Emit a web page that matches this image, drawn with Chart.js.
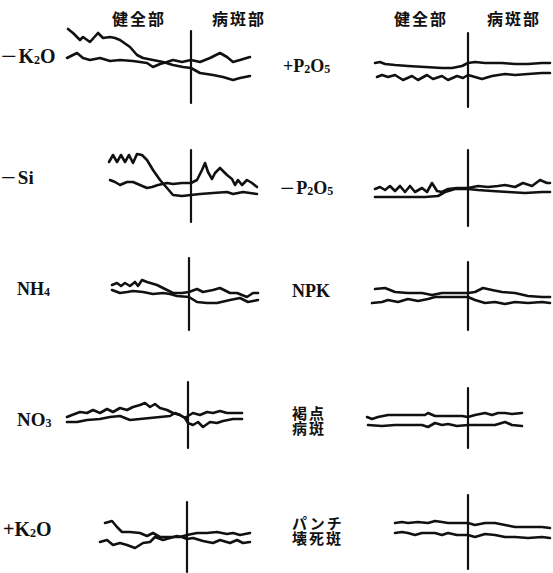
<!DOCTYPE html>
<html lang="ja">
<head>
<meta charset="utf-8">
<title>健全部と病斑部の比較</title>
<script src="https://cdn.jsdelivr.net/npm/chart.js@4.4.1/dist/chart.umd.min.js"></script>
<style>
    html, body { margin: 0; padding: 0; background: #fff; }
    body { width: 553px; height: 573px; position: relative; overflow: hidden; }
    canvas.panel { position: absolute; }
    .hdr {
        position: absolute;
        font-family: "Noto Sans CJK JP", sans-serif;
        font-weight: bold;
        font-size: 16px;
        line-height: 1;
        letter-spacing: 2px;
        color: #111;
        white-space: nowrap;
    }
    .lbl {
        position: absolute;
        font-family: "Liberation Serif", "DejaVu Serif", serif;
        font-weight: bold;
        font-size: 19px;
        line-height: 1;
        color: #111;
        white-space: nowrap;
    }
    .lbl sub { font-size: 12px; vertical-align: baseline; position: relative; top: 1px; }
    .lbl .sign { display: inline-block; transform: scaleX(1.4); margin: 0 4px 0 2px; }
    .jlbl {
        position: absolute;
        font-family: "Noto Sans CJK JP", sans-serif;
        font-weight: bold;
        font-size: 15px;
        line-height: 15px;
        letter-spacing: 2px;
        color: #111;
        white-space: nowrap;
    }
</style>
</head>
<body>

<div class="hdr" style="left:112px; top:10px;">健全部</div>
<div class="hdr" style="left:212px; top:10px;">病斑部</div>
<div class="hdr" style="left:394px; top:10px;">健全部</div>
<div class="hdr" style="left:487px; top:10px;">病斑部</div>

<div class="lbl" style="left:1px; top:46px; font-size:20px;"><span class="sign">−</span>K<sub>2</sub>O</div>
<div class="lbl" style="left:283px; top:57px; font-size:18px;">+P<sub>2</sub>O<sub>5</sub></div>
<div class="lbl" style="left:1px; top:168px;"><span class="sign">−</span>Si</div>
<div class="lbl" style="left:280px; top:179px; font-size:18px;"><span class="sign">−</span>P<sub>2</sub>O<sub>5</sub></div>
<div class="lbl" style="left:17px; top:280px; font-size:18px;">NH<sub>4</sub></div>
<div class="lbl" style="left:292px; top:282px; font-size:18px;">NPK</div>
<div class="lbl" style="left:17px; top:410px;">NO<sub>3</sub></div>
<div class="jlbl" style="left:292px; top:405px;">褐点<br>病斑</div>
<div class="lbl" style="left:3px; top:519px; font-size:20px;">+K<sub>2</sub>O</div>
<div class="jlbl" style="left:292px; top:515px;">パンチ<br>壊死斑</div>

<script>
// x: distance from the lesion border (negative = healthy side), y: relative level
const k2oMinusA = [[-123,38],[-118,34],[-111,27],[-108,30],[-101,25],[-93,34],[-88,29],[-81,30],[-76,29],[-71,27],[-61,20],[-54,12],[-48,9],[-38,7],[-28,5],[-18,2],[-8,0],[0,-1],[9,-6],[22,-8],[32,-10],[42,-13],[49,-11],[59,-9]];
const k2oMinusB = [[-124,9],[-114,14],[-108,9],[-101,7],[-91,9],[-81,6],[-71,7],[-58,6],[-44,4],[-38,0],[-31,3],[-24,5],[-18,7],[-9,5],[0,7],[9,5],[19,9],[29,14],[36,10],[42,5],[49,7],[59,10]];

const p2o5PlusA = [[-93,7],[-88,8],[-83,6],[-73,5],[-60,4],[-43,3],[-26,2],[-16,2],[-6,4],[0,7],[7,8],[17,7],[34,7],[47,6],[60,6],[74,7],[82,7]];
const p2o5PlusB = [[-91,-7],[-86,-5],[-80,-7],[-73,-5],[-65,-10],[-56,-6],[-50,-10],[-41,-5],[-35,-9],[-26,-6],[-20,-10],[-11,-6],[-5,-8],[0,-5],[7,-7],[14,-9],[24,-6],[37,-4],[47,-5],[60,-4],[74,-3],[82,-3]];

const siMinusA = [[-82,24],[-78,31],[-74,24],[-70,31],[-66,24],[-62,31],[-58,23],[-54,32],[-49,31],[-44,26],[-38,16],[-31,6],[-24,-2],[-18,-9],[-9,-10],[0,-9],[9,-8],[22,-7],[36,-6],[42,-8],[52,-6],[66,-8]];
const siMinusB = [[-81,6],[-76,4],[-71,1],[-64,4],[-58,4],[-51,1],[-44,-2],[-39,-1],[-33,1],[-24,3],[-18,2],[-9,3],[0,3],[6,6],[11,16],[14,23],[17,14],[21,7],[24,13],[29,18],[36,11],[41,7],[44,1],[47,6],[51,1],[56,6],[61,3],[66,-1]];

const p2o5MinusA = [[-93,-1],[-88,1],[-83,-2],[-78,2],[-73,-3],[-68,2],[-63,-4],[-58,2],[-53,-4],[-46,0],[-41,-4],[-36,5],[-31,-3],[-26,-4],[-20,-1],[-11,0],[0,0],[10,2],[20,1],[30,2],[37,3],[47,1],[55,5],[64,2],[72,8],[79,5],[82,5]];
const p2o5MinusB = [[-93,-9],[-76,-9],[-60,-9],[-43,-9],[-30,-8],[-23,-4],[-13,-1],[0,-1],[10,-2],[24,-3],[40,-4],[57,-5],[74,-4],[82,-4]];

const nh4A = [[-77,9],[-72,11],[-68,8],[-64,11],[-59,8],[-54,12],[-51,8],[-47,14],[-42,12],[-32,9],[-22,4],[-16,1],[-7,1],[0,2],[8,5],[14,2],[24,4],[31,6],[41,1],[48,1],[58,-3],[64,1],[69,1]];
const nh4B = [[-77,4],[-69,1],[-62,2],[-56,3],[-46,2],[-36,0],[-26,1],[-19,0],[-12,-2],[0,-3],[8,-8],[18,-9],[28,-9],[41,-6],[51,-4],[59,-8],[64,-7],[69,-6]];

const npkA = [[-93,7],[-83,8],[-73,4],[-60,3],[-46,3],[-36,1],[-26,3],[-13,3],[0,3],[7,4],[15,8],[24,6],[34,4],[47,3],[60,0],[74,-1],[82,-1]];
const npkB = [[-96,-7],[-86,-6],[-80,-4],[-70,-6],[-60,-3],[-50,-5],[-40,-3],[-33,-1],[-20,-1],[-6,-1],[0,-1],[7,-4],[17,-7],[27,-6],[37,-8],[47,-6],[60,-7],[74,-6],[82,-7]];

const no3A = [[-121,-2],[-116,0],[-108,3],[-101,2],[-95,5],[-88,2],[-81,6],[-75,3],[-68,7],[-61,5],[-55,8],[-48,10],[-43,12],[-38,8],[-33,11],[-28,7],[-21,5],[-15,2],[-8,0],[-3,-3],[0,-1],[5,2],[12,0],[19,3],[25,2],[32,4],[39,2],[45,2],[54,2]];
const no3B = [[-121,-7],[-111,-7],[-101,-5],[-88,-4],[-78,-2],[-68,-1],[-58,-5],[-48,-4],[-38,-3],[-28,-2],[-18,-1],[-13,2],[-8,0],[-3,-3],[0,-8],[5,-10],[10,-7],[15,-12],[22,-7],[29,-8],[35,-6],[45,-4],[54,-4]];

const brownSpotA = [[-101,1],[-96,-1],[-90,1],[-80,3],[-66,3],[-53,3],[-43,3],[-40,5],[-33,2],[-20,2],[-6,2],[0,1],[7,3],[17,5],[24,3],[30,5],[37,5],[44,4],[54,5]];
const brownSpotB = [[-100,-7],[-86,-8],[-73,-7],[-60,-7],[-46,-7],[-40,-9],[-33,-5],[-26,-7],[-20,-6],[-11,-8],[0,-7],[14,-7],[27,-7],[37,-4],[44,-7],[54,-8]];

const k2oPlusA = [[-82,14],[-75,16],[-70,10],[-65,5],[-57,5],[-47,4],[-40,1],[-34,4],[-27,0],[-14,0],[-7,0],[0,2],[10,4],[20,4],[30,5],[40,3],[46,4],[53,2],[63,4]];
const k2oPlusB = [[-87,-5],[-80,-3],[-74,-8],[-67,-6],[-60,-8],[-52,-11],[-44,-6],[-37,-5],[-32,0],[-24,-3],[-17,-1],[-10,1],[-5,0],[0,-2],[6,-1],[16,-4],[26,-6],[33,-3],[43,-6],[50,-3],[56,-6],[63,-5]];

const punchA = [[-73,9],[-66,10],[-60,9],[-50,10],[-40,9],[-33,11],[-26,10],[-20,9],[-13,9],[0,9],[7,7],[17,9],[27,9],[37,7],[47,5],[60,5],[74,5],[82,4]];
const punchB = [[-73,-1],[-66,0],[-60,-1],[-53,-3],[-46,-1],[-40,-1],[-33,-1],[-26,-3],[-20,-1],[-11,-3],[0,-3],[7,-5],[17,-2],[27,-3],[37,-5],[47,-5],[60,-6],[74,-5],[82,-6]];

// half length of the border line in each panel
const borderHalf = [36, 37, 36, 38, 36, 34, 33, 30, 35, 37];

// layout: where the border of each panel sits on the page
const panels = [
    { a: k2oMinusA, b: k2oMinusB, bx: 191, cy: 67 },
    { a: p2o5PlusA, b: p2o5PlusB, bx: 468, cy: 70 },
    { a: siMinusA, b: siMinusB, bx: 191, cy: 186 },
    { a: p2o5MinusA, b: p2o5MinusB, bx: 468, cy: 188 },
    { a: nh4A, b: nh4B, bx: 189, cy: 294 },
    { a: npkA, b: npkB, bx: 468, cy: 296 },
    { a: no3A, b: no3B, bx: 188, cy: 415 },
    { a: brownSpotA, b: brownSpotB, bx: 468, cy: 418 },
    { a: k2oPlusA, b: k2oPlusB, bx: 187, cy: 537 },
    { a: punchA, b: punchB, bx: 468, cy: 532 }
];

const X_MIN = -128, X_MAX = 85, Y_MIN = -50, Y_MAX = 50;
const INK = '#111';

function toPoints(pairs) {
    return pairs.map(p => ({ x: p[0], y: p[1] }));
}

function traceLine(pairs, width) {
    return {
        data: toPoints(pairs),
        borderColor: INK,
        borderWidth: width,
        pointRadius: 0,
        tension: 0,
        borderJoinStyle: 'round',
        borderCapStyle: 'round',
        clip: false
    };
}

function drawPanel(p, i) {
    const canvas = document.createElement('canvas');
    canvas.className = 'panel';
    canvas.width = X_MAX - X_MIN;
    canvas.height = Y_MAX - Y_MIN;
    canvas.style.left = (p.bx + X_MIN) + 'px';
    canvas.style.top = (p.cy - Y_MAX) + 'px';
    document.body.appendChild(canvas);

    const h = borderHalf[i];
    new Chart(canvas.getContext('2d'), {
        type: 'line',
        data: {
            datasets: [
                traceLine(p.a, 2.6),
                traceLine(p.b, 2.6),
                traceLine([[0, h], [0, -h]], 2.2)
            ]
        },
        options: {
            responsive: false,
            animation: false,
            devicePixelRatio: 1,
            layout: { padding: 0 },
            plugins: { legend: { display: false }, tooltip: { enabled: false } },
            scales: {
                x: { type: 'linear', min: X_MIN, max: X_MAX, display: false },
                y: { type: 'linear', min: Y_MIN, max: Y_MAX, display: false }
            }
        }
    });
}

panels.forEach(drawPanel);
</script>
</body>
</html>
